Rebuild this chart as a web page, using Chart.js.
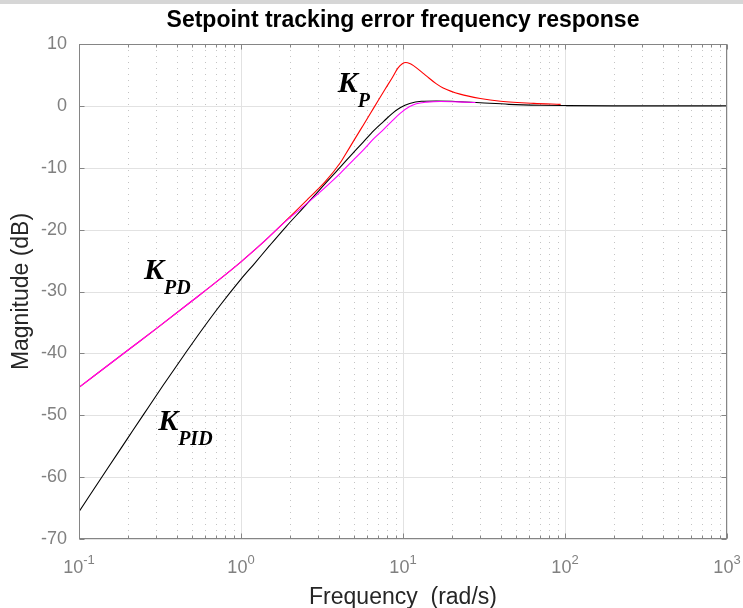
<!DOCTYPE html>
<html>
<head>
<meta charset="utf-8">
<script src="https://cdn.jsdelivr.net/npm/chart.js@4.4.1/dist/chart.umd.min.js"></script>
<style>
  html, body { margin: 0; padding: 0; background: #fff; }
  #wrap { width: 743px; height: 608px; }
</style>
</head>
<body>
<div id="wrap"><canvas id="bode" width="743" height="608"></canvas></div>
<script>
// magnitude of the tracking error S(jw) for the three controllers, in dB
const freqP = [0.1, 0.2, 0.3, 0.5, 0.74, 1.0, 1.3, 1.9, 2.6, 3.3, 4.1, 4.4, 5.0, 5.6, 6.3, 7.0, 7.8, 8.6, 9.3, 9.9, 10.4, 11.0, 11.6, 13, 14, 16, 17.7, 22.5, 30, 40, 64, 94];
const magP  = [-45.5, -39.5, -36.0, -31.5, -28.0, -25.2, -22.6, -18.5, -15.0, -12.3, -9.2, -7.9, -5.5, -3.4, -1.2, 0.8, 2.8, 4.6, 6.1, 6.8, 7.0, 6.85, 6.5, 5.5, 4.8, 3.6, 2.9, 1.9, 1.2, 0.75, 0.4, 0.25];

const freqPD = [0.1, 0.2, 0.3, 0.5, 0.74, 1.0, 1.3, 1.9, 2.6, 3.3, 4.1, 5.0, 5.7, 6.6, 7.6, 8.6, 9.6, 11, 12.1, 14, 17, 22, 28];
const magPD  = [-45.5, -39.5, -36.0, -31.5, -28.0, -25.2, -22.6, -18.6, -15.6, -13.2, -10.9, -8.6, -7.1, -5.3, -3.8, -2.4, -1.2, -0.1, 0.35, 0.6, 0.7, 0.65, 0.55];

const freqPID = [0.1, 0.15, 0.2, 0.25, 0.33, 0.45, 0.57, 0.75, 1.0, 1.2, 1.5, 1.9, 2.4, 3.0, 3.6, 4.1, 4.8, 5.7, 6.6, 7.6, 8.6, 9.6, 11, 13, 16, 20, 30, 45, 70, 100, 200, 1000];
const magPID  = [-65.6, -58.6, -53.7, -49.9, -45.2, -40.1, -36.3, -32.1, -28.0, -25.6, -22.6, -19.5, -16.6, -13.8, -11.5, -9.9, -7.9, -5.8, -4.0, -2.5, -1.2, -0.3, 0.4, 0.75, 0.8, 0.75, 0.5, 0.25, 0.1, 0.05, 0.0, 0.0];

const yTicks = [-70, -60, -50, -40, -30, -20, -10, 0, 10];
const decadeExp = [-1, 0, 1, 2, 3];

const SANS = '"Liberation Sans", Arial, Helvetica, sans-serif';
const SERIF = '"Liberation Serif", "Times New Roman", serif';

// curve tags: main letter + subscript, anchored in data units (rad/s, dB)
const tags = [
  { sub: 'P',   f: 3.96,  db: 2.3 },
  { sub: 'PD',  f: 0.252, db: -27.9 },
  { sub: 'PID', f: 0.308, db: -52.4 }
];

function pts(fs, ms) { return fs.map((f, i) => ({ x: f, y: ms[i] })); }

const axesDecor = {
  id: 'axesDecor',
  beforeDraw(chart) {
    const ctx = chart.ctx;
    ctx.save();
    ctx.fillStyle = '#fff';
    ctx.fillRect(0, 0, chart.width, chart.height);
    ctx.fillStyle = '#d6d6d6';
    ctx.fillRect(0, 0, chart.width, 4);
    ctx.restore();
  },
  beforeDatasetsDraw(chart) {
    const { ctx, chartArea: a, scales: { x, y } } = chart;
    ctx.save();
    ctx.lineWidth = 1;
    // minor log grid, dotted
    ctx.strokeStyle = '#c4c4c4';
    ctx.setLineDash([1, 5]);
    decadeExp.slice(0, -1).forEach(e => {
      for (let k = 2; k <= 9; k++) {
        const px = Math.round(x.getPixelForValue(k * Math.pow(10, e))) + 0.5;
        ctx.beginPath(); ctx.moveTo(px, a.top); ctx.lineTo(px, a.bottom); ctx.stroke();
      }
    });
    // major grid
    ctx.setLineDash([]);
    ctx.strokeStyle = '#e2e2e2';
    decadeExp.forEach(e => {
      const px = Math.round(x.getPixelForValue(Math.pow(10, e))) + 0.5;
      ctx.beginPath(); ctx.moveTo(px, a.top); ctx.lineTo(px, a.bottom); ctx.stroke();
    });
    yTicks.forEach(v => {
      const py = Math.round(y.getPixelForValue(v)) + 0.5;
      ctx.beginPath(); ctx.moveTo(a.left, py); ctx.lineTo(a.right, py); ctx.stroke();
    });
    ctx.restore();
  },
  afterDatasetsDraw(chart) {
    const { ctx, chartArea: a, scales: { x, y } } = chart;
    ctx.save();
    // box and inward ticks
    ctx.strokeStyle = '#858585';
    ctx.lineWidth = 1;
    const L = Math.round(a.left) + 0.5, R = Math.round(a.right) - 0.5;
    const T = Math.round(a.top) + 0.5, B = Math.round(a.bottom) - 0.5;
    ctx.strokeRect(L, T, R - L, B - T);
    ctx.beginPath();
    yTicks.forEach(v => {
      const py = Math.round(y.getPixelForValue(v)) + 0.5;
      ctx.moveTo(L, py); ctx.lineTo(L + 5, py);
      ctx.moveTo(R, py); ctx.lineTo(R - 5, py);
    });
    decadeExp.forEach((e, i) => {
      const px = Math.round(x.getPixelForValue(Math.pow(10, e))) + 0.5;
      ctx.moveTo(px, B); ctx.lineTo(px, B - 5);
      ctx.moveTo(px, T); ctx.lineTo(px, T + 5);
      if (i < decadeExp.length - 1) {
        for (let k = 2; k <= 9; k++) {
          const qx = Math.round(x.getPixelForValue(k * Math.pow(10, e))) + 0.5;
          ctx.moveTo(qx, B); ctx.lineTo(qx, B - 3);
          ctx.moveTo(qx, T); ctx.lineTo(qx, T + 3);
        }
      }
    });
    ctx.stroke();

    // decade labels 10^n
    ctx.fillStyle = '#808080';
    ctx.textBaseline = 'alphabetic';
    ctx.textAlign = 'left';
    decadeExp.forEach(e => {
      const px = x.getPixelForValue(Math.pow(10, e));
      const exp = e < 0 ? '-' + Math.abs(e) : String(e);
      ctx.font = '18px ' + SANS;
      const wb = ctx.measureText('10').width;
      ctx.font = '13px ' + SANS;
      const we = ctx.measureText(exp).width;
      const x0 = px - (wb + we) / 2;
      ctx.font = '18px ' + SANS;
      ctx.fillText('10', x0, a.bottom + 34);
      ctx.font = '13px ' + SANS;
      ctx.fillText(exp, x0 + wb, a.bottom + 25);
    });

    // chart title
    ctx.fillStyle = '#000';
    ctx.textAlign = 'center';
    ctx.font = 'bold 23px ' + SANS;
    ctx.fillText('Setpoint tracking error frequency response', (a.left + a.right) / 2, 27);

    // curve tags
    ctx.textAlign = 'left';
    tags.forEach(t => {
      const px = x.getPixelForValue(t.f), py = y.getPixelForValue(t.db);
      ctx.font = 'italic bold 30px ' + SERIF;
      ctx.fillText('K', px, py);
      const w = ctx.measureText('K').width;
      ctx.font = 'italic bold 20px ' + SERIF;
      ctx.fillText(t.sub, px + w, py + 15);
    });
    ctx.restore();
  }
};

new Chart(document.getElementById('bode'), {
  type: 'line',
  data: {
    datasets: [
      { label: 'KPD', data: pts(freqPD, magPD), borderColor: '#ff00ff' },
      { label: 'KP', data: pts(freqP, magP), borderColor: '#ff0000' },
      { label: 'KPID', data: pts(freqPID, magPID), borderColor: '#000000' }
    ].map(d => Object.assign(d, { borderWidth: 1.1, pointRadius: 0, fill: false, cubicInterpolationMode: 'monotone' }))
  },
  options: {
    responsive: false,
    animation: false,
    layout: { padding: { top: 44, right: 16, bottom: 0, left: 0 } },
    plugins: { legend: { display: false }, tooltip: { enabled: false }, title: { display: false } },
    scales: {
      x: {
        type: 'logarithmic', min: 0.1, max: 1000,
        grid: { display: false, drawTicks: false },
        border: { display: false },
        ticks: { display: false },
        title: { display: true, text: 'Frequency  (rad/s)', color: '#262626', font: { family: SANS, size: 23 }, padding: { top: 0, bottom: -3 } },
        afterFit(s) { s.height = 69; }
      },
      y: {
        min: -70, max: 10,
        afterBuildTicks(s) { s.ticks = yTicks.map(v => ({ value: v })); },
        grid: { display: false, drawTicks: false },
        border: { display: false },
        ticks: { color: '#808080', font: { family: SANS, size: 18 }, padding: 12 },
        title: { display: true, text: 'Magnitude (dB)', color: '#262626', font: { family: SANS, size: 23 }, padding: { top: 8, bottom: 0 } },
        afterFit(s) { s.width = 79; }
      }
    }
  },
  plugins: [axesDecor]
});
</script>
</body>
</html>
